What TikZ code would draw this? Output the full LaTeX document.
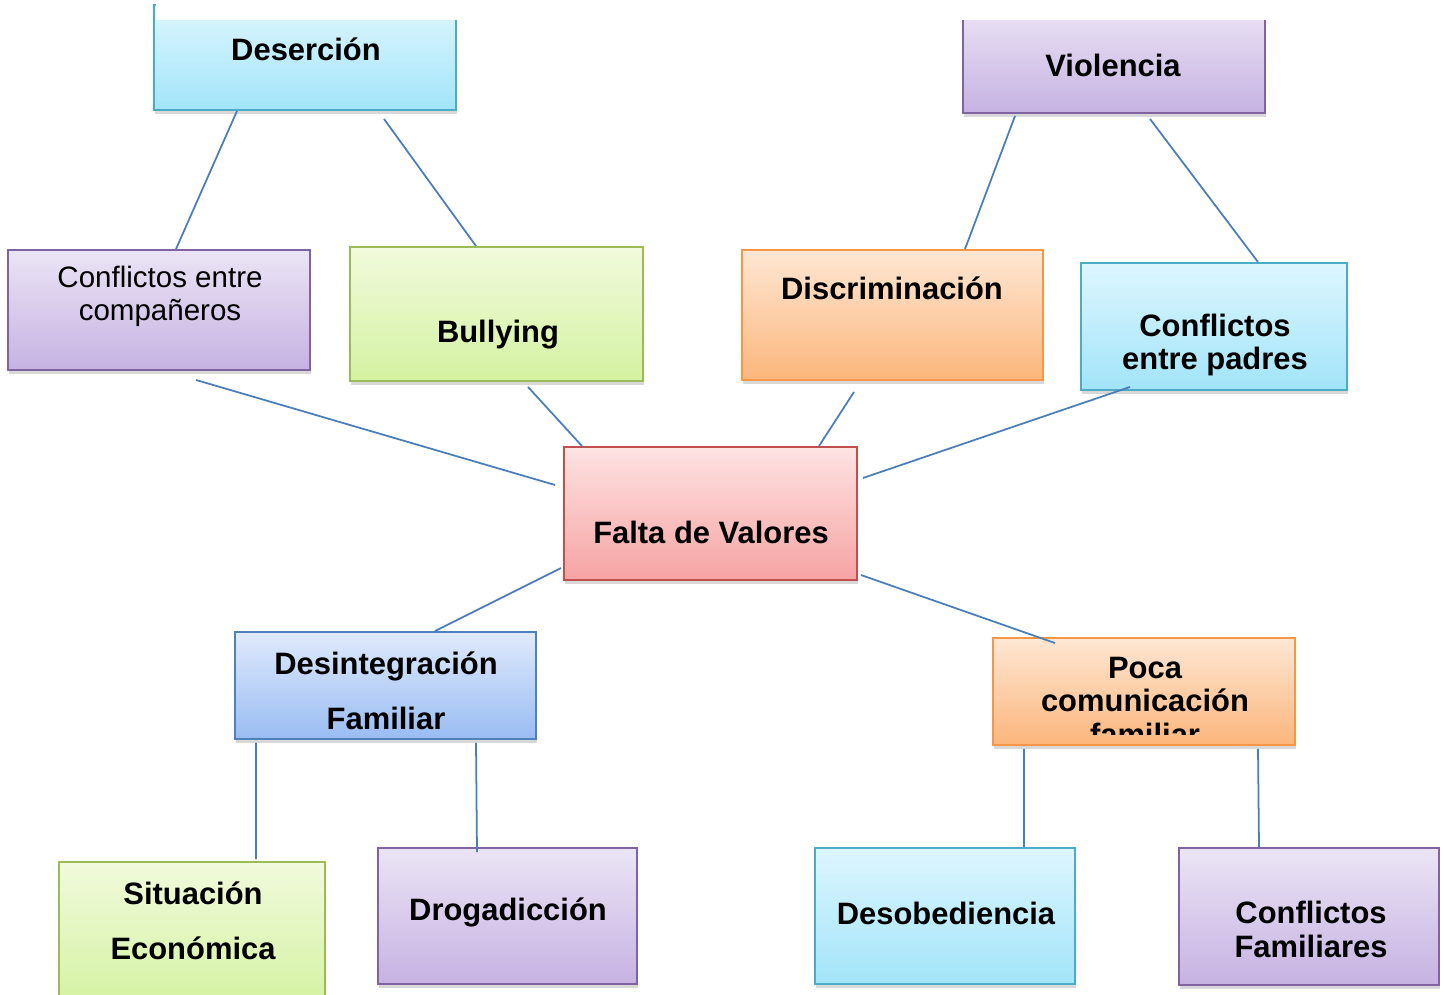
\documentclass[tikz,border=0pt]{standalone}
\usepackage{fontspec}
\setmainfont{Liberation Sans}
\usetikzlibrary{shadows}

\definecolor{cianborde}{HTML}{4BACC6}
\definecolor{ciansup}{HTML}{DDF6FE}
\definecolor{cianinf}{HTML}{A2E4F9}
\definecolor{lilaborde}{HTML}{8064A2}
\definecolor{lilasup}{HTML}{EBE4F5}
\definecolor{lilainf}{HTML}{C6B2E2}
\definecolor{verdeborde}{HTML}{9BBB59}
\definecolor{verdesup}{HTML}{F1FADC}
\definecolor{verdeinf}{HTML}{D4F2A2}
\definecolor{naranjaborde}{HTML}{F79646}
\definecolor{naranjasup}{HTML}{FEE7D4}
\definecolor{naranjainf}{HTML}{FBB67C}
\definecolor{rojoborde}{HTML}{C0504D}
\definecolor{rojosup}{HTML}{FEE3E3}
\definecolor{rojoinf}{HTML}{F6A3A3}
\definecolor{azulborde}{HTML}{4F81BD}
\definecolor{azulsup}{HTML}{E0EAFC}
\definecolor{azulinf}{HTML}{99BCF2}
\definecolor{enlacecolor}{HTML}{4A7EBB}

\begin{document}
\begin{tikzpicture}
      \tikzstyle{caja}=[rectangle,inner sep=0pt,line width=1.1pt,drop shadow={opacity=0.3,shadow xshift=0.6pt,shadow yshift=-2.5pt}]
      \tikzstyle{cian}=[caja,draw=cianborde,top color=ciansup,bottom color=cianinf]
      \tikzstyle{lila}=[caja,draw=lilaborde,top color=lilasup,bottom color=lilainf]
      \tikzstyle{verde}=[caja,draw=verdeborde,top color=verdesup,bottom color=verdeinf]
      \tikzstyle{naranja}=[caja,draw=naranjaborde,top color=naranjasup,bottom color=naranjainf]
      \tikzstyle{rojo}=[caja,draw=rojoborde,top color=rojosup,bottom color=rojoinf]
      \tikzstyle{azul}=[caja,draw=azulborde,top color=azulsup,bottom color=azulinf]
      \tikzstyle{texto}=[align=center,inner sep=0pt,font=\fontsize{17.6}{19.3}\selectfont\bfseries]
      \tikzstyle{textofino}=[align=center,inner sep=0pt,font=\fontsize{16.8}{18.7}\selectfont]
      \tikzstyle{linea}=[draw=enlacecolor,line width=1pt]

      \useasboundingbox (0,0) rectangle (28.9,-19.9);
      \fill[white] (0,0) rectangle (28.9,-19.9);

      \node[cian,minimum width=6.04cm,minimum height=2.10cm](des) at (6.10,-1.15){};
      \node[lila,minimum width=6.04cm,minimum height=2.16cm](viol) at (22.28,-1.18){};

      \node[lila,minimum width=6.04cm,minimum height=2.40cm](comp) at (3.18,-6.20){};
      \node[verde,minimum width=5.86cm,minimum height=2.68cm](bully) at (9.93,-6.28){};
      \node[naranja,minimum width=6.02cm,minimum height=2.60cm](disc) at (17.85,-6.30){};
      \node[cian,minimum width=5.32cm,minimum height=2.54cm](padres) at (24.28,-6.53){};

      \node[rojo,minimum width=5.86cm,minimum height=2.66cm](falta) at (14.21,-10.27){};

      \node[azul,minimum width=6.02cm,minimum height=2.14cm](desint) at (7.71,-13.71){};
      \node[naranja,minimum width=6.04cm,minimum height=2.14cm](poca) at (22.88,-13.83){};

      \node[verde,minimum width=5.32cm,minimum height=2.86cm](situ) at (3.84,-18.67){};
      \node[lila,minimum width=5.18cm,minimum height=2.72cm](drog) at (10.15,-18.32){};
      \node[cian,minimum width=5.20cm,minimum height=2.72cm](deso) at (18.90,-18.32){};
      \node[lila,minimum width=5.20cm,minimum height=2.74cm](confam) at (26.18,-18.33){};

      \fill[white] (3.12,0) rectangle (28.9,-0.40);

      \node[texto](des-t) at (6.12,-0.98){Deserción};
      \node[texto](viol-t) at (22.26,-1.30){Violencia};
      \node[textofino](comp-t) at (3.20,-5.93){Conflictos entre\\compañeros};
      \node[texto](bully-t) at (9.96,-6.70){Bullying};
      \node[texto](disc-t) at (17.84,-5.76){Discriminación};
      \node[texto](padres-t) at (24.30,-6.90){Conflictos\\entre padres};
      \node[texto](falta-t) at (14.22,-10.64){Falta de Valores};
      \node[texto,font=\fontsize{17.6}{31.2}\selectfont\bfseries](desint-t) at (7.72,-13.81){Desintegración\\Familiar};
      \begin{scope}
        \clip (poca.north west) rectangle ([yshift=0.22cm]poca.south east);
        \node[texto](poca-t) at (22.90,-14.03){Poca\\comunicación\\familiar};
      \end{scope}
      \node[texto,font=\fontsize{17.6}{31.2}\selectfont\bfseries](situ-t) at (3.86,-18.41){Situación\\Económica};
      \node[texto](drog-t) at (10.16,-18.24){Drogadicción};
      \node[texto](deso-t) at (18.92,-18.26){Desobediencia};
      \node[texto](confam-t) at (26.22,-18.58){Conflictos\\Familiares};

      \path[linea]
      ([xshift=-1.36cm]des.south) edge ([xshift=0.34cm]comp.north)
      ([xshift=1.58cm,yshift=-0.16cm]des.south) edge ([xshift=-0.41cm]bully.north)
      ([xshift=-1.98cm,yshift=-0.04cm]viol.south) edge ([xshift=1.45cm]disc.north)
      ([xshift=0.72cm,yshift=-0.10cm]viol.south) edge ([xshift=0.88cm]padres.north)
      ([xshift=0.74cm,yshift=-0.18cm]comp.south) edge ([xshift=-0.16cm,yshift=0.57cm]falta.west)
      ([xshift=0.63cm,yshift=-0.10cm]bully.south) edge ([xshift=-2.57cm]falta.north)
      ([xshift=-0.77cm,yshift=-0.22cm]disc.south) edge ([xshift=2.17cm]falta.north)
      ([xshift=-1.68cm,yshift=0.08cm]padres.south) edge ([xshift=0.10cm,yshift=0.71cm]falta.east)
      ([xshift=-0.04cm,yshift=-1.09cm]falta.west) edge ([xshift=0.99cm]desint.north)
      ([xshift=0.06cm,yshift=-1.23cm]falta.east) edge ([xshift=-1.78cm,yshift=-0.12cm]poca.north)
      ([xshift=-2.59cm,yshift=-0.06cm]desint.south) edge ([xshift=1.28cm,yshift=0.04cm]situ.north)
      ([xshift=1.81cm,yshift=-0.06cm]desint.south) edge ([xshift=-0.61cm,yshift=-0.10cm]drog.north)
      ([xshift=-2.40cm,yshift=-0.06cm]poca.south) edge ([xshift=1.58cm]deso.north)
      ([xshift=2.28cm,yshift=-0.06cm]poca.south) edge ([xshift=-1.00cm]confam.north);
    \end{tikzpicture}
\end{document}
